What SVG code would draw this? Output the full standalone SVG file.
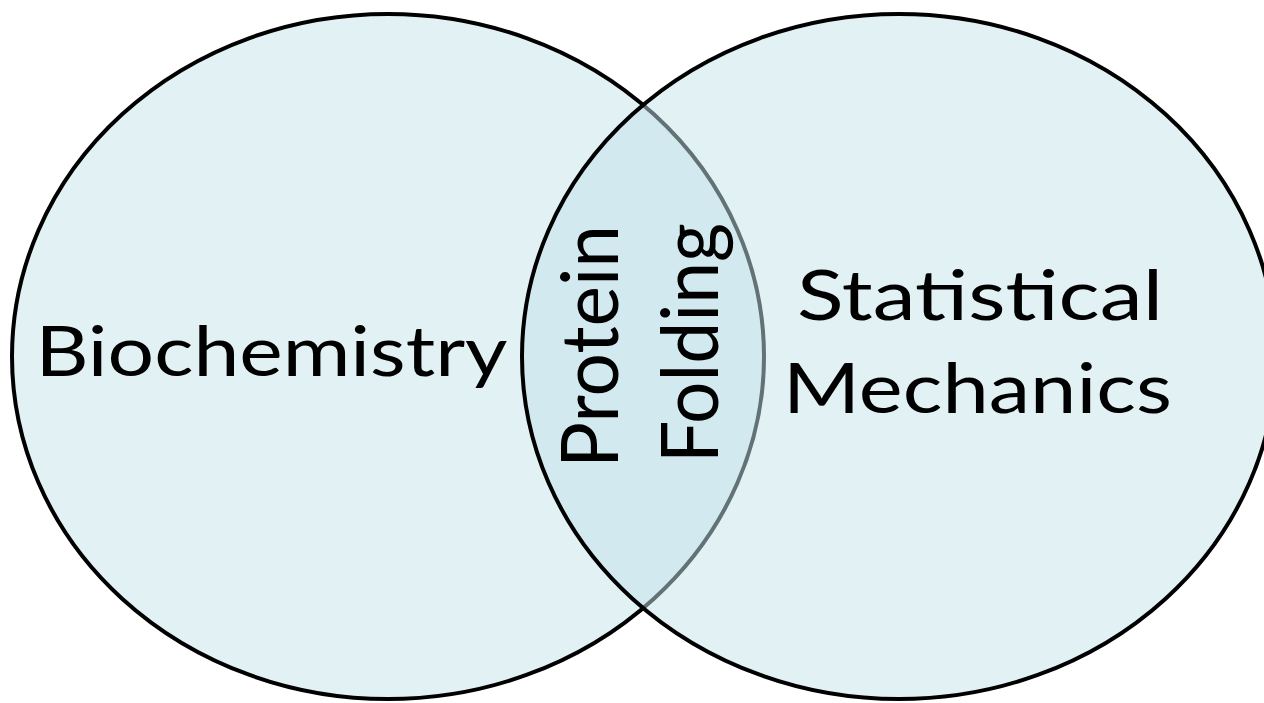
<svg xmlns="http://www.w3.org/2000/svg" width="1264" height="703" viewBox="0 0 1264 703">
<style>
.set{fill:#C3E3E9;fill-opacity:0.5;stroke:#000;stroke-width:4}
.lbl{font-family:Lato,"Open Sans","Liberation Sans",sans-serif;font-size:70px;fill:#000;text-anchor:middle}
.vert{font-size:80px}
</style>
<rect width="1264" height="703" fill="#fff"/>
<g id="biochemistry">
<ellipse class="set" cx="388" cy="356.5" rx="376" ry="342.5"/>
<text class="lbl" x="271.5" y="376" textLength="472" lengthAdjust="spacingAndGlyphs">Biochemistry</text>
</g>
<g id="statistical-mechanics">
<ellipse class="set" cx="899" cy="356.5" rx="377" ry="342.5"/>
<text class="lbl" x="980" y="320" textLength="366" lengthAdjust="spacingAndGlyphs">Statistical</text>
<text class="lbl" x="977.5" y="413" textLength="389" lengthAdjust="spacingAndGlyphs">Mechanics</text>
</g>
<g id="protein-folding">
<text class="lbl vert" transform="translate(618,346.5) rotate(-90)" textLength="243" lengthAdjust="spacingAndGlyphs">Protein</text>
<text class="lbl vert" transform="translate(718,343) rotate(-90)" textLength="240" lengthAdjust="spacingAndGlyphs">Folding</text>
</g>
<g id="connectors"></g>
</svg>
